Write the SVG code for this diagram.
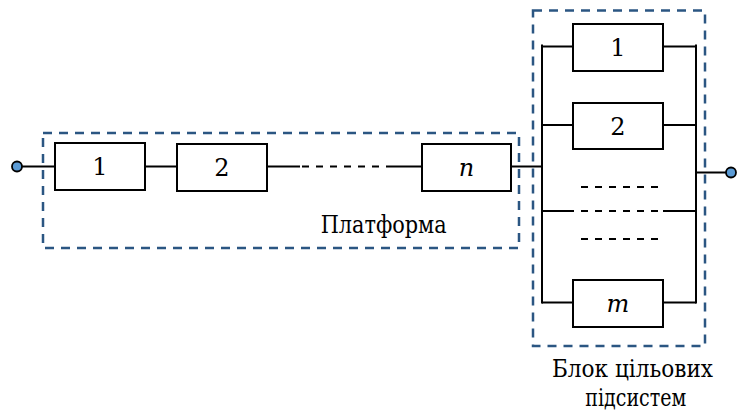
<svg xmlns="http://www.w3.org/2000/svg" width="744" height="412" viewBox="0 0 744 412">
<style>
.box{fill:#fff;stroke:#000;stroke-width:2}
.w{stroke:#000;stroke-width:2;fill:none}
.dw{stroke:#000;stroke-width:2;fill:none;stroke-dasharray:7 7}
.grp{fill:none;stroke:#2b5682;stroke-width:2.5;stroke-dasharray:9 7}
text{font-family:'DejaVu Serif','Liberation Serif',serif;font-size:24px;fill:#000;text-anchor:middle}
.i{font-style:italic}
.term{fill:#5b9bd5;stroke:#000;stroke-width:1.8}
</style>
<rect x="0" y="0" width="744" height="412" fill="#fff"/>
<g id="platform-group">
<rect class="grp" x="43" y="133" width="476" height="115"/>
<text x="383.7" y="233.3" textLength="126" lengthAdjust="spacingAndGlyphs">Платформа</text>
</g>
<g id="block-group">
<rect class="grp" x="533" y="10.5" width="172" height="335.5"/>
<text x="632.5" y="376.7" textLength="161" lengthAdjust="spacingAndGlyphs">Блок цільових</text>
<text x="635.8" y="405.5" textLength="101" lengthAdjust="spacingAndGlyphs">підсистем</text>
</g>
<g id="connectors">
<line class="w" x1="22" y1="166.5" x2="55" y2="166.5"/>
<line class="w" x1="145" y1="166.5" x2="177" y2="166.5"/>
<line class="w" x1="267" y1="166.5" x2="300" y2="166.5"/>
<line class="dw" x1="302" y1="166.5" x2="390" y2="166.5"/>
<line class="w" x1="390" y1="166.5" x2="422" y2="166.5"/>
<line class="w" x1="511" y1="166.5" x2="542" y2="166.5"/>
<line class="w" x1="542" y1="44.5" x2="542" y2="303.5"/>
<line class="w" x1="696" y1="44.5" x2="696" y2="303.5"/>
<line class="w" x1="542" y1="46.5" x2="573" y2="46.5"/>
<line class="w" x1="663" y1="46.5" x2="696" y2="46.5"/>
<line class="w" x1="542" y1="125" x2="573" y2="125"/>
<line class="w" x1="663" y1="125" x2="696" y2="125"/>
<line class="dw" x1="581" y1="187" x2="658" y2="187"/>
<line class="w" x1="542" y1="211" x2="574" y2="211"/>
<line class="dw" x1="581" y1="211" x2="658" y2="211"/>
<line class="w" x1="663" y1="211" x2="696" y2="211"/>
<line class="dw" x1="581" y1="239" x2="658" y2="239"/>
<line class="w" x1="542" y1="302.5" x2="573" y2="302.5"/>
<line class="w" x1="663" y1="302.5" x2="696" y2="302.5"/>
<line class="w" x1="696" y1="172.5" x2="726" y2="172.5"/>
</g>
<g id="in-terminal"><circle class="term" cx="17" cy="166.5" r="5"/></g>
<g id="out-terminal"><circle class="term" cx="731" cy="172.5" r="5"/></g>
<g id="p1"><rect class="box" x="55" y="143" width="90" height="47"/><text x="100" y="175">1</text></g>
<g id="p2"><rect class="box" x="177" y="144" width="90" height="47"/><text x="222" y="176">2</text></g>
<g id="pn"><rect class="box" x="422" y="144" width="89" height="47"/><text class="i" x="466.5" y="176">n</text></g>
<g id="s1"><rect class="box" x="573" y="24" width="90" height="47"/><text x="618" y="56">1</text></g>
<g id="s2"><rect class="box" x="573" y="103" width="90" height="46"/><text x="618" y="134.5">2</text></g>
<g id="sm"><rect class="box" x="573" y="280" width="90" height="47"/><text class="i" x="618" y="312">m</text></g>
</svg>
